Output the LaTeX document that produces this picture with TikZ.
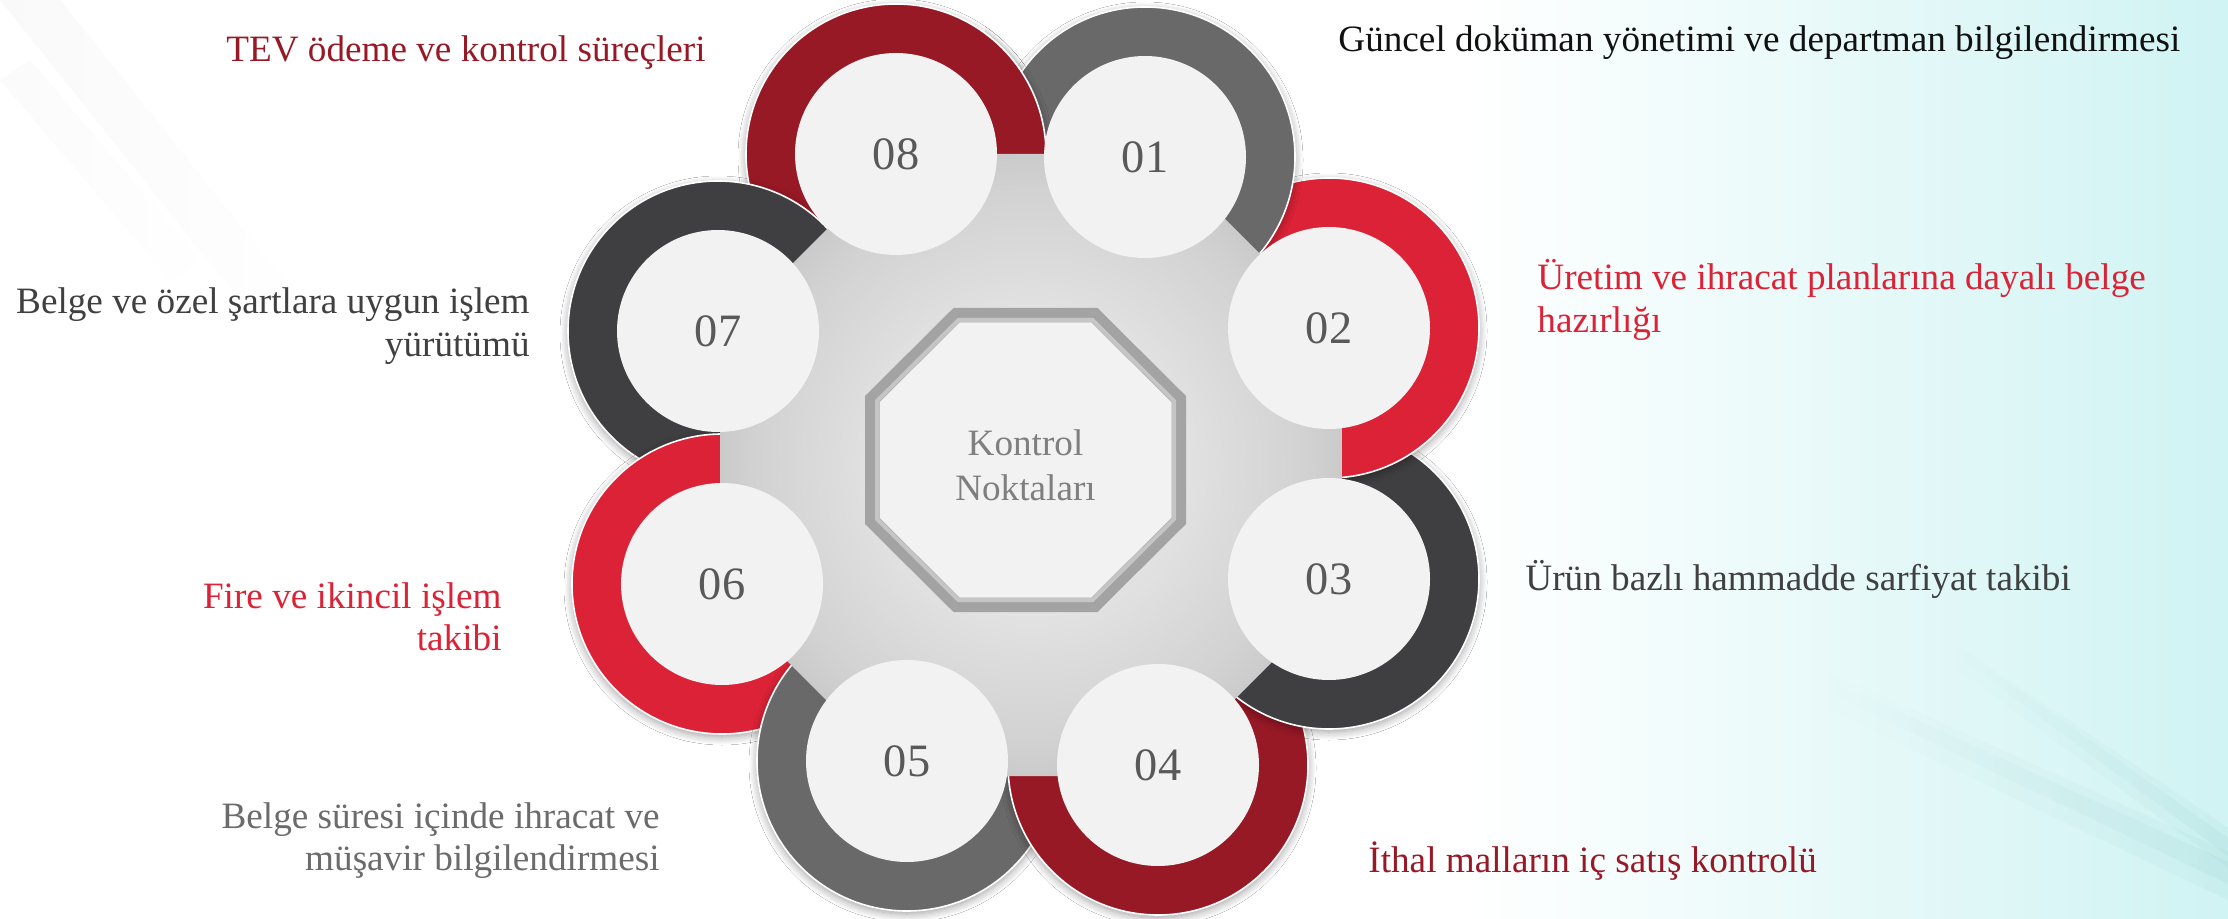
\documentclass[tikz,border=0pt]{standalone}
\usepackage{fontspec}
\setmainfont{Liberation Serif}
\usetikzlibrary{shadows.blur,fadings}

\definecolor{wine}{HTML}{981926}
\definecolor{scarlet}{HTML}{DC2236}
\definecolor{slate}{HTML}{696969}
\definecolor{charcoal}{HTML}{3F3F41}
\definecolor{disc}{HTML}{F2F2F2}
\definecolor{numgray}{HTML}{595959}
\definecolor{rimgray}{HTML}{A3A3A3}
\definecolor{labelgray}{HTML}{7F7F7F}
\definecolor{midgray}{HTML}{6B6B6B}
\definecolor{darktext}{HTML}{404040}
\definecolor{inktext}{HTML}{111111}
\definecolor{hubin}{HTML}{E2E2E2}
\definecolor{hubmid}{HTML}{D2D2D2}
\definecolor{hubout}{HTML}{B6B6B6}
\definecolor{bgcyan}{HTML}{D0F3F3}
\definecolor{streak}{HTML}{7FBDBD}
\definecolor{mist}{HTML}{E6E6E6}
\definecolor{octshade}{HTML}{DCDCDC}

% fadings for the soft streaks
\tikzfading[name=growright, left color=transparent!100, right color=transparent!0]
\tikzfading[name=dieright, left color=transparent!0, right color=transparent!100]

% radial fill of the grey hub behind the discs
\pgfdeclareradialshading{hubshade}{\pgfpoint{0bp}{0bp}}{%
  color(0bp)=(hubin); color(12bp)=(hubin); color(22bp)=(hubmid);
  color(33bp)=(hubout); color(75bp)=(hubout)}

\begin{document}
\begin{tikzpicture}[x=0.5pt,y=-0.5pt,
  ringdisc/.style={circle, minimum size=150pt, inner sep=0pt, outer sep=0pt,
    draw=white, line width=0.8pt,
    blur shadow={shadow xshift=0pt, shadow yshift=-1.5pt,
      shadow blur radius=4pt, shadow blur steps=10, shadow opacity=38}},
  numdisc/.style={circle, minimum size=101pt, inner sep=0pt, fill=disc,
    text=numgray, font=\fontsize{23.2pt}{28pt}\selectfont},
  lab/.style={inner sep=0pt, font=\fontsize{18.6pt}{21.2pt}\selectfont}]

\useasboundingbox (0,0) rectangle (2228,919);

% backdrop
\fill[white] (0,0) rectangle (2228,919);
\shade[left color=white, right color=bgcyan] (1460,0) rectangle (2228,919);

% soft streaks
\fill[streak, opacity=0.08, path fading=growright]
  (1820,668) -- (2228,852) -- (2228,900) -- (1820,706) -- cycle;
\fill[streak, opacity=0.10, path fading=growright]
  (1830,680) -- (2228,862) -- (2228,884) -- (1830,694) -- cycle;
\fill[streak, opacity=0.08, path fading=growright]
  (1950,640) -- (2228,828) -- (2228,868) -- (1950,664) -- cycle;
\fill[streak, opacity=0.10, path fading=growright]
  (1960,648) -- (2228,838) -- (2228,856) -- (1960,658) -- cycle;
\fill[mist, opacity=0.22, path fading=dieright]
  (0,0) -- (60,0) -- (300,300) -- (240,300) -- cycle;
\fill[mist, opacity=0.15, path fading=dieright]
  (0,80) -- (30,60) -- (200,260) -- (170,280) -- cycle;

% rings, each one lying over the next
\node[ringdisc, fill=wine]     (r08) at (896,154) {};
\node[ringdisc, fill=charcoal] (r07) at (718,331) {};
\node[ringdisc, fill=scarlet]  (r06) at (722,584) {};
\node[ringdisc, fill=slate]    (r05) at (907,761) {};
\node[ringdisc, fill=wine]     (r04) at (1158,765) {};
\node[ringdisc, fill=charcoal] (r03) at (1329,579) {};
\node[ringdisc, fill=scarlet]  (r02) at (1329,328) {};
\node[ringdisc, fill=slate]    (r01) at (1145,157) {};
% ring 08 also lies over ring 01
\begin{scope}
  \clip (985,0) rectangle (1100,160);
  \node[ringdisc, fill=wine] at (r08) {};
\end{scope}

% grey hub
\shade[shading=hubshade]
  (902,154) -- (1160,154) -- (1342,336) -- (1342,592) --
  (1158,776) -- (902,776) -- (720,594) -- (720,336) -- cycle;

% numbered discs
\node[numdisc] (c01) at (r01) {01};
\node[numdisc] (c02) at (r02) {02};
\node[numdisc] (c03) at (r03) {03};
\node[numdisc] (c04) at (r04) {04};
\node[numdisc] (c05) at (r05) {05};
\node[numdisc] (c06) at (r06) {06};
\node[numdisc] (c07) at (r07) {07};
\node[numdisc] (c08) at (r08) {08};

% central octagon with a faint inner shade along its rim
\draw[draw=rimgray, line width=7.25pt, fill=disc, line join=miter]
  (956.5,315.25) -- (1094.5,315.25) -- (1178.75,399) -- (1178.75,521) --
  (1094.5,604.75) -- (956.5,604.75) -- (872.25,521) -- (872.25,399) -- cycle;
\draw[draw=octshade, line width=2pt, line join=miter, opacity=0.6]
  (958.5,320) -- (1092.5,320) -- (1174,401) -- (1174,519) --
  (1092.5,600) -- (958.5,600) -- (877,519) -- (877,401) -- cycle;
\node[lab, text=labelgray, anchor=base, font=\fontsize{18.6pt}{22.35pt}\selectfont]
  (hub) at (1025.5,456) {\begin{tabular}[t]{@{}c@{}}Kontrol\\Noktaları\end{tabular}};

% labels
\node[lab, text=wine, anchor=base east] (t08) at (706,62)
  {TEV ödeme ve kontrol süreçleri};
\node[lab, text=inktext, anchor=base west] (t01) at (1338,52)
  {Güncel doküman yönetimi ve departman bilgilendirmesi};
\node[lab, text=scarlet, anchor=base west] (t02) at (1537,290)
  {\begin{tabular}[t]{@{}l@{}}Üretim ve ihracat planlarına dayalı belge\\hazırlığı\end{tabular}};
\node[lab, text=darktext, anchor=base west] (t03) at (1525,590)
  {Ürün bazlı hammadde sarfiyat takibi};
\node[lab, text=wine, anchor=base west] (t04) at (1368,872)
  {İthal malların iç satış kontrolü};
\node[lab, text=midgray, anchor=base east] (t05) at (660,828)
  {\begin{tabular}[t]{@{}r@{}}Belge süresi içinde ihracat ve\\müşavir bilgilendirmesi\end{tabular}};
\node[lab, text=scarlet, anchor=base east] (t06) at (502,608)
  {\begin{tabular}[t]{@{}r@{}}Fire ve ikincil işlem\\takibi\end{tabular}};
\node[lab, text=darktext, anchor=base east] (t07) at (530,314)
  {\begin{tabular}[t]{@{}r@{}}Belge ve özel şartlara uygun işlem\\yürütümü\end{tabular}};
\end{tikzpicture}
\end{document}
